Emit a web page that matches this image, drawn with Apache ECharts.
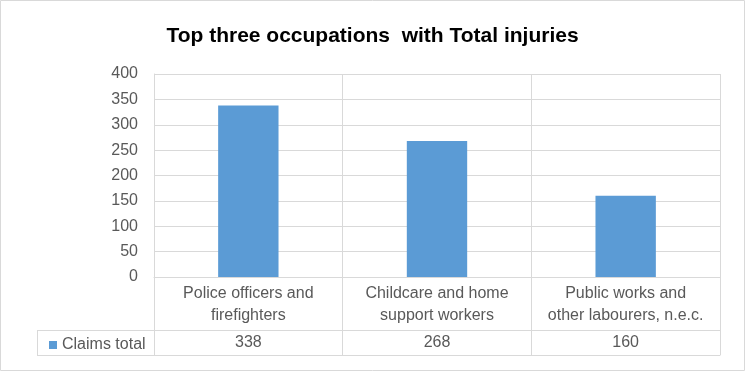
<!DOCTYPE html>
<html><head><meta charset="utf-8">
<script src="https://cdn.jsdelivr.net/npm/echarts@6/dist/echarts.min.js"></script>
<style>html,body{margin:0;padding:0;background:#fff}#c{width:745px;height:371px}</style>
</head><body><div id="c"></div>
<script>
const categories = ['Police officers and\nfirefighters', 'Childcare and home\nsupport workers', 'Public works and\nother labourers, n.e.c.'];
const claimsTotal = [338, 268, 160];
const seriesName = 'Claims total';
const titleText = 'Top three occupations  with Total injuries';

const grey = '#d9d9d9';
const txt = '#595959';
const font = 'Liberation Sans';
const chart = echarts.init(document.getElementById('c'), null, {renderer: 'canvas'});
chart.setOption({
  animation: false,
  title: {text: titleText, left: 'center', top: 21,
    textStyle: {fontFamily: font, fontWeight: 'bold', fontSize: 21, color: '#000'}},
  legend: {data: [seriesName], left: 44, top: 332, icon: 'rect', itemWidth: 8, itemHeight: 8, itemGap: 5,
    textStyle: {fontFamily: font, fontSize: 16, color: txt}},
  grid: {left: 154, right: 25, top: 74, bottom: 94},
  xAxis: [
    {type: 'category', data: categories, position: 'bottom',
      axisLine: {show: true, lineStyle: {color: grey}},
      axisTick: {show: true, length: 53, lineStyle: {color: grey}},
      splitLine: {show: true, lineStyle: {color: grey}},
      axisLabel: {margin: 6, fontFamily: font, fontSize: 16, color: txt, lineHeight: 22, interval: 0}},
    {type: 'category', data: claimsTotal.map(String), position: 'bottom', offset: 53,
      axisLine: {show: true, lineStyle: {color: grey}},
      axisTick: {show: true, length: 25, lineStyle: {color: grey}},
      axisLabel: {margin: 4, fontFamily: font, fontSize: 16, color: txt, lineHeight: 18, interval: 0}},
    {type: 'category', data: claimsTotal.map(String), position: 'bottom', offset: 78,
      axisLine: {show: true, lineStyle: {color: grey}},
      axisTick: {show: false}, axisLabel: {show: false}}
  ],
  yAxis: {type: 'value', min: 0, max: 400, interval: 50,
    axisLine: {show: true, lineStyle: {color: grey}},
    axisTick: {show: false},
    splitLine: {show: true, lineStyle: {color: grey}},
    axisLabel: {margin: 16, fontFamily: font, fontSize: 16, color: txt}},
  series: [{name: seriesName, type: 'bar', data: claimsTotal, barWidth: '32%', xAxisIndex: 0,
    itemStyle: {color: '#5B9BD5'}}],
  graphic: [
    {type: 'rect', shape: {x: 0.5, y: 0.5, width: 744, height: 370}, style: {fill: 'none', stroke: grey, lineWidth: 1}, silent: true},
    {type: 'line', shape: {x1: 37, y1: 330.5, x2: 154, y2: 330.5}, style: {stroke: grey, lineWidth: 1}},
    {type: 'line', shape: {x1: 37, y1: 355.5, x2: 154, y2: 355.5}, style: {stroke: grey, lineWidth: 1}},
    {type: 'line', shape: {x1: 37.5, y1: 330, x2: 37.5, y2: 356}, style: {stroke: grey, lineWidth: 1}}
  ]
});
</script></body></html>
